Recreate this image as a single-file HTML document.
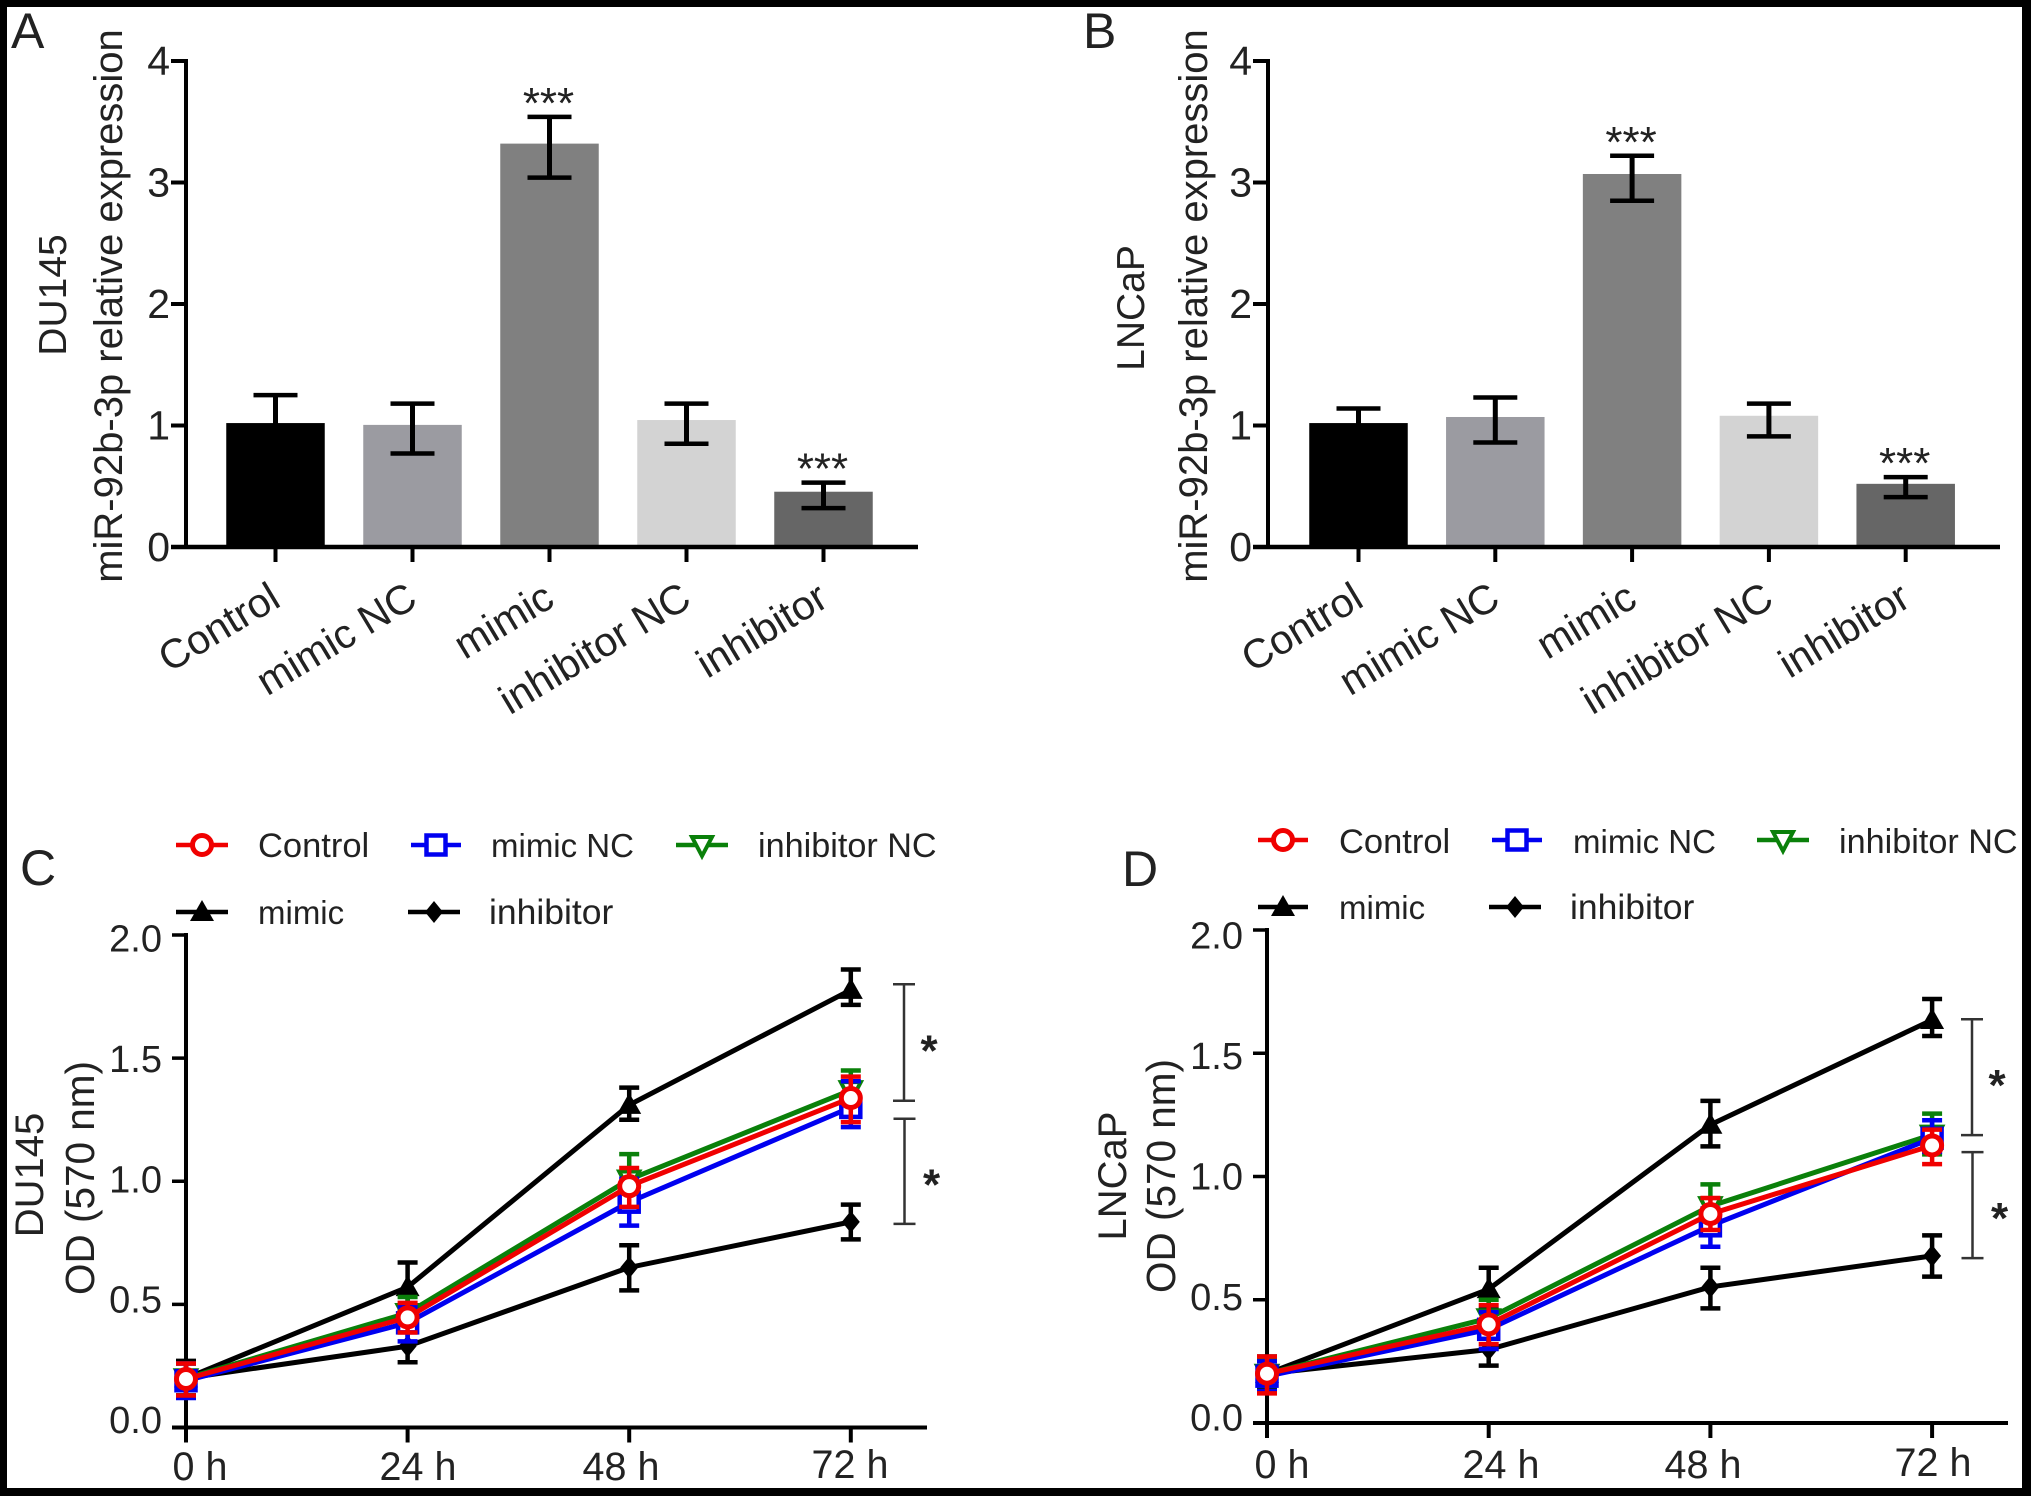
<!DOCTYPE html>
<html>
<head>
<meta charset="utf-8">
<title>miR-92b-3p expression and cell viability</title>
<style>
html,body{margin:0;padding:0;background:#fff}
svg{display:block}
text{font-family:"Liberation Sans",Arial,sans-serif;fill:#222}
</style>
</head>
<body>
<svg id="figure" width="2031" height="1496" viewBox="0 0 2031 1496" xmlns="http://www.w3.org/2000/svg">
<rect width="2031" height="1496" fill="#fff"/>
<g id="plots"></g>

<text x="11" y="48" font-size="50">A</text>
<text x="1083" y="48" font-size="50">B</text>
<text x="20" y="885" font-size="50">C</text>
<text x="1122" y="886" font-size="50">D</text>

<text transform="translate(122,306) rotate(-90)" text-anchor="middle" font-size="40">miR-92b-3p relative expression</text>
<text transform="translate(66,295) rotate(-90)" text-anchor="middle" font-size="39">DU145</text>
<text transform="translate(1207,306) rotate(-90)" text-anchor="middle" font-size="40">miR-92b-3p relative expression</text>
<text transform="translate(1144,308) rotate(-90)" text-anchor="middle" font-size="39">LNCaP</text>
<text transform="translate(94,1178) rotate(-90)" text-anchor="middle" font-size="40.5">OD (570 nm)</text>
<text transform="translate(43,1175) rotate(-90)" text-anchor="middle" font-size="40">DU145</text>
<text transform="translate(1175,1176) rotate(-90)" text-anchor="middle" font-size="40.5">OD (570 nm)</text>
<text transform="translate(1126,1176) rotate(-90)" text-anchor="middle" font-size="40">LNCaP</text>

<text x="200" y="1480" text-anchor="middle" font-size="39.5">0 h</text>
<text x="418" y="1480" text-anchor="middle" font-size="39.5">24 h</text>
<text x="621" y="1480" text-anchor="middle" font-size="39.5">48 h</text>
<text x="850" y="1478" text-anchor="middle" font-size="39.5">72 h</text>
<text x="1282" y="1478" text-anchor="middle" font-size="39.5">0 h</text>
<text x="1501" y="1478" text-anchor="middle" font-size="39.5">24 h</text>
<text x="1703" y="1478" text-anchor="middle" font-size="39.5">48 h</text>
<text x="1933" y="1476" text-anchor="middle" font-size="39.5">72 h</text>

<text x="258" y="857" font-size="34.5">Control</text>
<text x="491" y="857" font-size="33">mimic NC</text>
<text x="758" y="857" font-size="34.2">inhibitor NC</text>
<text x="258" y="924" font-size="33">mimic</text>
<text x="489" y="924" font-size="35.5">inhibitor</text>
<text x="1339" y="853" font-size="34.5">Control</text>
<text x="1573" y="853" font-size="33">mimic NC</text>
<text x="1839" y="853" font-size="34.2">inhibitor NC</text>
<text x="1339" y="919" font-size="33">mimic</text>
<text x="1570" y="919" font-size="35.5">inhibitor</text>

<g id="legend-marks"></g>

<g fill="#000">
<rect x="0" y="0" width="2031" height="7"/>
<rect x="0" y="1488" width="2031" height="8"/>
<rect x="0" y="0" width="7" height="1496"/>
<rect x="2022" y="0" width="9" height="1496"/>
</g>
</svg>

<script>
// ---------- bar chart data ----------
const barCategories = ["Control", "mimic NC", "mimic", "inhibitor NC", "inhibitor"];
const barTicks = [0, 1, 2, 3, 4];
const barColors = ["#000000", "#9b9ba1", "#808080", "#d3d3d3", "#666666"];
const barStars = ["", "", "***", "", "***"];
const duMeans = [1.02, 1.005, 3.32, 1.045, 0.455];
const duUpper = [1.25, 1.18, 3.54, 1.18, 0.53];
const duLower = [0.79, 0.77, 3.04, 0.85, 0.32];
const lnMeans = [1.02, 1.07, 3.07, 1.08, 0.52];
const lnUpper = [1.14, 1.23, 3.22, 1.18, 0.575];
const lnLower = [0.90, 0.86, 2.85, 0.91, 0.41];

// ---------- line chart data ----------
const timeCategories = ["0 h", "24 h", "48 h", "72 h"];
const lineTicks = ["0.0", "0.5", "1.0", "1.5", "2.0"];

const duInhibitor = [0.20, 0.33, 0.65, 0.835];
const duInhibitorUp = [0.27, 0.39, 0.74, 0.905];
const duInhibitorLow = [0.13, 0.265, 0.557, 0.764];
const duMimic = [0.20, 0.57, 1.31, 1.777];
const duMimicUp = [0.27, 0.67, 1.38, 1.86];
const duMimicLow = [0.13, 0.47, 1.25, 1.716];
const duInhNC = [0.20, 0.465, 1.007, 1.37];
const duInhNCUp = [0.26, 0.53, 1.11, 1.45];
const duInhNCLow = [0.13, 0.41, 0.91, 1.29];
const duMimNC = [0.19, 0.425, 0.915, 1.30];
const duMimNCUp = [0.26, 0.49, 1.01, 1.406];
const duMimNCLow = [0.12, 0.35, 0.82, 1.22];
const duControl = [0.197, 0.447, 0.98, 1.338];
const duControlUp = [0.26, 0.506, 1.054, 1.425];
const duControlLow = [0.13, 0.386, 0.896, 1.24];

const lnInhibitor = [0.20, 0.298, 0.552, 0.678];
const lnInhibitorUp = [0.27, 0.36, 0.63, 0.761];
const lnInhibitorLow = [0.14, 0.233, 0.465, 0.594];
const lnMimic = [0.20, 0.543, 1.21, 1.635];
const lnMimicUp = [0.26, 0.63, 1.307, 1.72];
const lnMimicLow = [0.14, 0.46, 1.122, 1.57];
const lnInhNC = [0.20, 0.425, 0.88, 1.17];
const lnInhNCUp = [0.26, 0.50, 0.968, 1.255];
const lnInhNCLow = [0.15, 0.37, 0.82, 1.09];
const lnMimNC = [0.19, 0.38, 0.80, 1.155];
const lnMimNCUp = [0.25, 0.45, 0.87, 1.228];
const lnMimNCLow = [0.13, 0.30, 0.715, 1.10];
const lnControl = [0.20, 0.40, 0.848, 1.126];
const lnControlUp = [0.27, 0.478, 0.913, 1.19];
const lnControlLow = [0.12, 0.32, 0.783, 1.05];

// significance brackets, in axis units: [upper end, lower end]
const duBrackets = [[1.80, 1.327], [1.254, 0.827]];
const lnBrackets = [[1.638, 1.168], [1.099, 0.669]];

// ---------- helpers ----------
const NS = "http://www.w3.org/2000/svg";
const plots = document.getElementById("plots");
const legendMarks = document.getElementById("legend-marks");

function make(tag, attrs, parent) {
  const node = document.createElementNS(NS, tag);
  for (const k in attrs) node.setAttribute(k, attrs[k]);
  parent.appendChild(node);
  return node;
}
function group(name, parent) {
  const g = document.createElementNS(NS, "g");
  
  
  parent.appendChild(g);
  return g;
}
function seg(parent, x1, y1, x2, y2, color, width) {
  return make("line", {x1: x1, y1: y1, x2: x2, y2: y2, stroke: color, "stroke-width": width}, parent);
}
function linear(d0, d1, r0, r1) {
  return function (v) { return r0 + (v - d0) * (r1 - r0) / (d1 - d0); };
}

// ---------- bar panels ----------
function drawBarPanel(id, means, upper, lower, box) {
  const root = group(id + "-bar-chart", plots);
  const y = linear(0, 4, box.y0, box.y4);
  const x = function (i) { return box.x0 + i * box.step; };
  const barW = 98.5;

  means.forEach(function (m, i) {
    const g = group(id + "-bar-" + barCategories[i].replace(/\s+/g, "-").toLowerCase(), root);
    make("rect", {x: x(i) - barW / 2, y: y(m), width: barW, height: y(0) - y(m), fill: barColors[i]}, g);
    seg(g, x(i), y(upper[i]), x(i), y(lower[i]), "#000", 5);
    seg(g, x(i) - 22, y(upper[i]), x(i) + 22, y(upper[i]), "#000", 4.5);
    seg(g, x(i) - 22, y(lower[i]), x(i) + 22, y(lower[i]), "#000", 4.5);
    if (barStars[i]) {
      const star = make("text", {x: x(i) - 1, y: y(upper[i]) + 1, "text-anchor": "middle", "font-size": 44}, g);
      
      
      star.textContent = barStars[i];
    }
  });

  const axes = group(id + "-axes", root);
  seg(axes, box.axisX, box.y4 - 2, box.axisX, box.y0 + 2, "#000", 4);
  seg(axes, box.axisX - 15, y(0), box.xEnd, y(0), "#000", 4.5);
  barTicks.forEach(function (t) {
    seg(axes, box.axisX - 15, y(t), box.axisX, y(t), "#000", 4);
    const label = make("text", {x: box.axisX - 16, y: y(t) + 14, "text-anchor": "end", "font-size": 41}, axes);
    
    
    label.textContent = t;
  });
  barCategories.forEach(function (c, i) {
    seg(axes, x(i), y(0), x(i), y(0) + 15, "#000", 4);
    const label = make("text", {"text-anchor": "end", "font-size": 41,
      transform: "translate(" + (x(i) + 7) + "," + (y(0) + 58) + ") rotate(-31)"}, axes);
    
    
    label.textContent = c;
  });
}

// ---------- markers ----------
function drawMarker(parent, kind, cx, cy, color) {
  if (kind === "circle") {
    make("ellipse", {cx: cx, cy: cy, rx: 9.5, ry: 9.5, fill: "#fff", stroke: color, "stroke-width": 5}, parent);
  } else if (kind === "square") {
    make("rect", {x: cx - 9.5, y: cy - 9.5, width: 19, height: 19, fill: "#fff", stroke: color, "stroke-width": 4.5}, parent);
  } else if (kind === "down") {
    make("polygon", {points: (cx - 10) + "," + (cy - 8) + " " + (cx + 10) + "," + (cy - 8) + " " + cx + "," + (cy + 11), fill: "#fff", stroke: color, "stroke-width": 4}, parent);
  } else if (kind === "up") {
    make("polygon", {points: (cx - 12) + "," + (cy + 9) + " " + (cx + 12) + "," + (cy + 9) + " " + cx + "," + (cy - 12), fill: color}, parent);
  } else {
    make("polygon", {points: cx + "," + (cy - 11) + " " + (cx + 9) + "," + cy + " " + cx + "," + (cy + 11) + " " + (cx - 9) + "," + cy, fill: color}, parent);
  }
}

// ---------- line panels ----------
function drawLinePanel(id, series, brackets, box) {
  const root = group(id + "-line-chart", plots);
  const y = linear(0, 2, box.y0, box.y2);
  const x = function (i) { return box.x0 + i * box.step; };

  const axes = group(id + "-axes", root);
  seg(axes, box.x0, box.y2 - 2, box.x0, box.y0 + 2, "#000", 4);
  seg(axes, box.x0 - 14, box.y0, box.xEnd, box.y0, "#000", 4);
  const mid = (box.y0 + box.y2) / 2;
  lineTicks.forEach(function (t) {
    const v = parseFloat(t);
    seg(axes, box.x0 - 14, y(v), box.x0, y(v), "#000", 3.5);
    const labelY = mid + (y(v) - mid) * 0.977 + box.labelShift;
    const label = make("text", {x: box.x0 - 24, y: labelY, "text-anchor": "end", "font-size": 38}, axes);
    
    
    label.textContent = t;
  });
  timeCategories.forEach(function (c, i) {
    seg(axes, x(i), box.y0, x(i), box.y0 + 15, "#000", 4);
  });

  series.forEach(function (s) {
    const g = group(id + "-series-" + s.name, root);
    s.mean.forEach(function (m, i) {
      seg(g, x(i), y(s.up[i]), x(i), y(s.low[i]), s.color, 4.5);
      seg(g, x(i) - 10, y(s.up[i]), x(i) + 10, y(s.up[i]), s.color, 4.5);
      seg(g, x(i) - 10, y(s.low[i]), x(i) + 10, y(s.low[i]), s.color, 4.5);
    });
    const pts = s.mean.map(function (m, i) { return x(i) + "," + y(m); }).join(" ");
    make("polyline", {points: pts, fill: "none", stroke: s.color, "stroke-width": 5}, g);
    s.mean.forEach(function (m, i) {
      drawMarker(g, s.marker, x(i), y(m), s.color);
    });
  });

  brackets.forEach(function (b, i) {
    const g = group(id + "-significance-bracket-" + (i + 1), root);
    const bx = box.bracketX + i * 0.5;
    seg(g, bx, y(b[0]), bx, y(b[1]), "#333", 2.5);
    seg(g, bx - 11, y(b[0]), bx + 11, y(b[0]), "#333", 2.5);
    seg(g, bx - 11, y(b[1]), bx + 11, y(b[1]), "#333", 2.5);
    const star = make("text", {x: bx + 25 + i * 2, y: (y(b[0]) + y(b[1])) / 2 + 23 + i * 5, "text-anchor": "middle", "font-size": 44, "font-weight": "bold"}, g);
    
    
    star.textContent = "*";
  });
}

function legendKey(name, kind, color, x1, x2, cy) {
  const g = group(name, legendMarks);
  seg(g, x1, cy, x2, cy, color, 4.5);
  drawMarker(g, kind, (x1 + x2) / 2, cy, color);
}

// ---------- render ----------
drawBarPanel("a", duMeans, duUpper, duLower, {axisX: 186, x0: 275.5, step: 137, y0: 547, y4: 61, xEnd: 918});
drawBarPanel("b", lnMeans, lnUpper, lnLower, {axisX: 1268, x0: 1358.5, step: 136.8, y0: 547, y4: 61, xEnd: 2000});

drawLinePanel("c", [
  {name: "inhibitor", marker: "diamond", color: "#000", mean: duInhibitor, up: duInhibitorUp, low: duInhibitorLow},
  {name: "mimic", marker: "up", color: "#000", mean: duMimic, up: duMimicUp, low: duMimicLow},
  {name: "inhibitor-nc", marker: "down", color: "#0a800a", mean: duInhNC, up: duInhNCUp, low: duInhNCLow},
  {name: "mimic-nc", marker: "square", color: "#0000f0", mean: duMimNC, up: duMimNCUp, low: duMimNCLow},
  {name: "control", marker: "circle", color: "#f00000", mean: duControl, up: duControlUp, low: duControlLow}
], duBrackets, {x0: 186, step: 221.6, y0: 1427.5, y2: 935, xEnd: 927, bracketX: 904, labelShift: 11});

drawLinePanel("d", [
  {name: "inhibitor", marker: "diamond", color: "#000", mean: lnInhibitor, up: lnInhibitorUp, low: lnInhibitorLow},
  {name: "mimic", marker: "up", color: "#000", mean: lnMimic, up: lnMimicUp, low: lnMimicLow},
  {name: "inhibitor-nc", marker: "down", color: "#0a800a", mean: lnInhNC, up: lnInhNCUp, low: lnInhNCLow},
  {name: "mimic-nc", marker: "square", color: "#0000f0", mean: lnMimNC, up: lnMimNCUp, low: lnMimNCLow},
  {name: "control", marker: "circle", color: "#f00000", mean: lnControl, up: lnControlUp, low: lnControlLow}
], lnBrackets, {x0: 1267, step: 221.7, y0: 1423, y2: 930, xEnd: 2008, bracketX: 1972, labelShift: 13});

legendKey("c-legend-key-control", "circle", "#f00000", 176, 228, 845);
legendKey("c-legend-key-mimic-nc", "square", "#0000f0", 411, 461, 845);
legendKey("c-legend-key-inhibitor-nc", "down", "#0a800a", 676, 728, 845);
legendKey("c-legend-key-mimic", "up", "#000", 176, 228, 912);
legendKey("c-legend-key-inhibitor", "diamond", "#000", 408, 460, 912);
legendKey("d-legend-key-control", "circle", "#f00000", 1258, 1308, 840);
legendKey("d-legend-key-mimic-nc", "square", "#0000f0", 1492, 1542, 840);
legendKey("d-legend-key-inhibitor-nc", "down", "#0a800a", 1757, 1809, 840);
legendKey("d-legend-key-mimic", "up", "#000", 1258, 1308, 907);
legendKey("d-legend-key-inhibitor", "diamond", "#000", 1489, 1541, 907);
</script>
</body>
</html>
